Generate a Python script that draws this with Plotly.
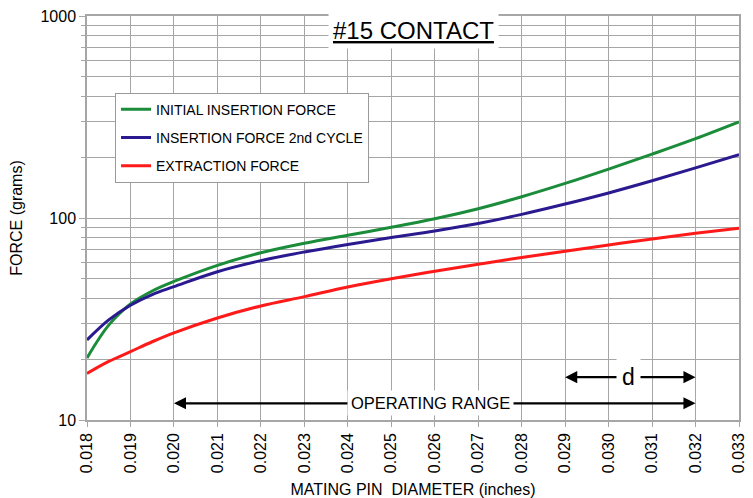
import plotly.graph_objects as go
import math

# ---- data ----
diameter = [0.018, 0.0185, 0.019, 0.0195, 0.020, 0.021, 0.022, 0.023, 0.024,
            0.025, 0.026, 0.027, 0.028, 0.029, 0.030, 0.031, 0.032, 0.033]
initial_insertion = [20.3, 29.5, 37.5, 43.5, 48.5, 58.3, 67.3, 75.0, 82.2,
                     89.9, 99.1, 111.2, 127.4, 148.3, 174.6, 207.0, 247.0, 299.0]
insertion_2nd = [24.9, 31.3, 37.0, 41.8, 45.7, 54.2, 61.5, 67.9, 74.0,
                 80.0, 86.3, 94.0, 104.2, 117.2, 133.0, 152.8, 177.0, 206.0]
extraction = [17.0, 19.5, 21.8, 24.4, 27.0, 32.0, 36.7, 40.8, 45.5,
              50.0, 54.5, 59.0, 63.8, 68.5, 73.5, 78.8, 84.0, 89.0]

series_names = ["INITIAL INSERTION FORCE", "INSERTION FORCE 2nd CYCLE", "EXTRACTION FORCE"]
series_colors = ["#1a8c3a", "#2a1a8f", "#ff1a1a"]

x_ticks = [0.018 + 0.001 * i for i in range(16)]
x_ticktext = ["%.3f" % v for v in x_ticks]
y_ticks = [10, 100, 1000]
y_ticktext = ["10", "100", "1000"]

op_range = [0.020, 0.032]
op_label_x = 0.0259
op_y = 12.1
d_range = [0.029, 0.032]
d_label_x = 0.03045
d_y = 16.3

FONT = "Liberation Sans, Arial, sans-serif"
GRID = "#a6a6a6"

fig = go.Figure()
for name, vals, col in zip(series_names, [initial_insertion, insertion_2nd, extraction], series_colors):
    fig.add_trace(go.Scatter(
        x=diameter, y=vals, mode="lines", name=name, legendgroup=name,
        line=dict(color=col, width=3, shape="spline", smoothing=1.0),
    ))

annotations = []
# title
annotations.append(dict(
    xref="paper", yref="paper", x=0.5, y=0.963, xanchor="center", yanchor="middle",
    text="<u>#15 CONTACT</u>", showarrow=False, font=dict(family=FONT, size=24, color="black"),
    bgcolor="white", borderpad=4,
))

def arrow(head_x, tail_x, yv):
    ly = math.log10(yv)
    return dict(x=head_x, y=ly, ax=tail_x, ay=ly, xref="x", yref="y", axref="x", ayref="y",
                text="", showarrow=True, arrowhead=2, arrowsize=1.1, arrowwidth=2.2,
                arrowcolor="black")

annotations.append(arrow(op_range[0], op_label_x, op_y))
annotations.append(arrow(op_range[1], op_label_x, op_y))
annotations.append(arrow(d_range[0], d_label_x, d_y))
annotations.append(arrow(d_range[1], d_label_x, d_y))
annotations.append(dict(x=op_label_x, y=math.log10(op_y), xref="x", yref="y", text="OPERATING RANGE",
                        showarrow=False, font=dict(family=FONT, size=16.5, color="black"),
                        bgcolor="white", borderpad=3))
annotations.append(dict(x=d_label_x, y=math.log10(d_y), xref="x", yref="y", text="d",
                        showarrow=False, font=dict(family=FONT, size=23, color="black"),
                        bgcolor="white", borderpad=5))

# The page body keeps an 8px margin, so the figure is sized/placed to land on the 753x498 frame.
fig.update_layout(
    width=745, height=490,
    margin=dict(l=79, r=14, t=8, b=78),
    paper_bgcolor="white", plot_bgcolor="white",
    font=dict(family=FONT, size=14, color="black"),
    showlegend=True,
    legend=dict(x=0.043, y=0.81, xanchor="left", yanchor="top",
                bgcolor="white", bordercolor="#9a9a9a", borderwidth=1,
                font=dict(family=FONT, size=14), tracegroupgap=7,
                itemwidth=30, traceorder="grouped"),
    annotations=annotations,
    xaxis=dict(range=[0.018, 0.033], tickvals=x_ticks, ticktext=x_ticktext, tickangle=-90,
               automargin=False, ticklabeloverflow="allow",
               showgrid=True, gridcolor=GRID, gridwidth=1,
               showline=True, linecolor=GRID, linewidth=1.5, mirror=True,
               ticks="outside", ticklen=5, tickcolor=GRID,
               tickfont=dict(family=FONT, size=16),
               title=dict(text="MATING PIN  DIAMETER (inches)", font=dict(family=FONT, size=16)),
               zeroline=False),
    yaxis=dict(type="log", range=[1, 3], tickvals=y_ticks, ticktext=y_ticktext,
               automargin=False, ticklabeloverflow="allow",
               showgrid=True, gridcolor=GRID, gridwidth=1,
               minor=dict(showgrid=True, gridcolor=GRID, gridwidth=1, dtick="D1",
                          ticks="outside", ticklen=4, tickcolor=GRID),
               showline=True, linecolor=GRID, linewidth=1.5, mirror=True,
               ticks="outside", ticklen=6, tickcolor=GRID,
               tickfont=dict(family=FONT, size=16),
               title=dict(text="FORCE (grams)", font=dict(family=FONT, size=16)),
               zeroline=False),
)

fig.write_html("out.html")
